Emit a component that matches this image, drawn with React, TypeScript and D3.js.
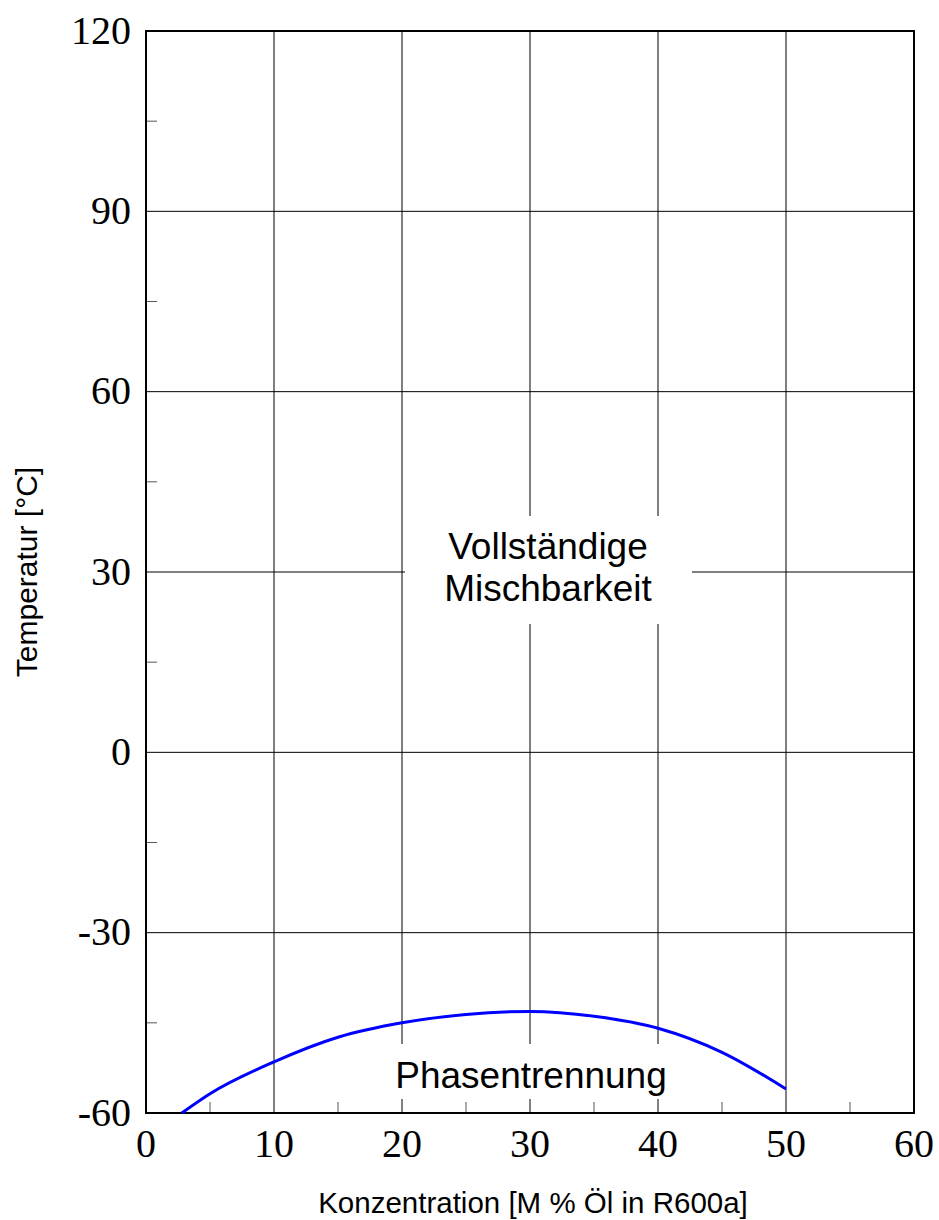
import React from "react";
import * as d3 from "d3";

const xTicks = [0, 10, 20, 30, 40, 50, 60];
const yTicks = [-60, -30, 0, 30, 60, 90, 120];
const xMinor = [5, 15, 25, 35, 45, 55];
const yMinor = [-45, -15, 15, 45, 75, 105];
const curveX = [2.8, 5, 10, 15, 20, 25, 30, 35, 40, 45, 50];
const curveY = [-60, -56.8, -51.5, -47.4, -45, -43.6, -43.1, -43.9, -45.9, -49.9, -56];

const W = 939, H = 1220;
const L = 146, R = 914, T = 31, B = 1113;

export default function App() {
  const x = d3.scaleLinear().domain([0, 60]).range([L, R]);
  const y = d3.scaleLinear().domain([-60, 120]).range([B, T]);
  const line = d3.line<number>().x((d, i) => x(curveX[i])).y((d) => y(d)).curve(d3.curveMonotoneX);
  const pts = curveY;
  return (
    <svg width={W} height={H} style={{ position: "absolute", left: 0, top: 0, background: "#fff" }}>
      <rect x={0} y={0} width={W} height={H} fill="#fff" />
      {xTicks.slice(1, -1).map((t) => (
        <line key={"gx" + t} x1={x(t)} x2={x(t)} y1={T} y2={B} stroke="#000" strokeWidth={1} />
      ))}
      {yTicks.slice(1, -1).map((t) => (
        <line key={"gy" + t} x1={L} x2={R} y1={y(t)} y2={y(t)} stroke="#000" strokeWidth={1} />
      ))}
      {xMinor.map((t) => (
        <line key={"mx" + t} x1={x(t)} x2={x(t)} y1={B} y2={B - 11} stroke="#555" strokeWidth={1} />
      ))}
      {yMinor.map((t) => (
        <line key={"my" + t} x1={L} x2={L + 11} y1={y(t)} y2={y(t)} stroke="#555" strokeWidth={1} />
      ))}
      <rect x={405} y={516} width={287} height={108} fill="#fff" />
      <rect x={391} y={1044} width={280} height={55} fill="#fff" />
      <rect x={L} y={T} width={R - L} height={B - T} fill="none" stroke="#000" strokeWidth={2} />
      <path d={line(pts) || ""} fill="none" stroke="#0000ff" strokeWidth={3} />
      <g fontFamily="'Liberation Serif', 'Times New Roman', serif" fontSize={40} fill="#000">
        {yTicks.map((t) => (
          <text key={"yl" + t} x={131} y={y(t)} textAnchor="end" dominantBaseline="central" dy="-1">
            {t}
          </text>
        ))}
        {xTicks.map((t) => (
          <text key={"xl" + t} x={x(t)} y={1157} textAnchor="middle">
            {t}
          </text>
        ))}
      </g>
      <g fontFamily="'Liberation Sans', Arial, sans-serif" fill="#000">
        <text x={533} y={1213} fontSize={29.5} textAnchor="middle">Konzentration [M % Öl in R600a]</text>
        <text transform="translate(37,572) rotate(-90)" fontSize={30} textAnchor="middle">Temperatur [°C]</text>
        <text x={548} y={559} fontSize={37} textAnchor="middle">Vollständige</text>
        <text x={548} y={601} fontSize={37} textAnchor="middle">Mischbarkeit</text>
        <text x={531} y={1088} fontSize={37} textAnchor="middle">Phasentrennung</text>
      </g>
    </svg>
  );
}
